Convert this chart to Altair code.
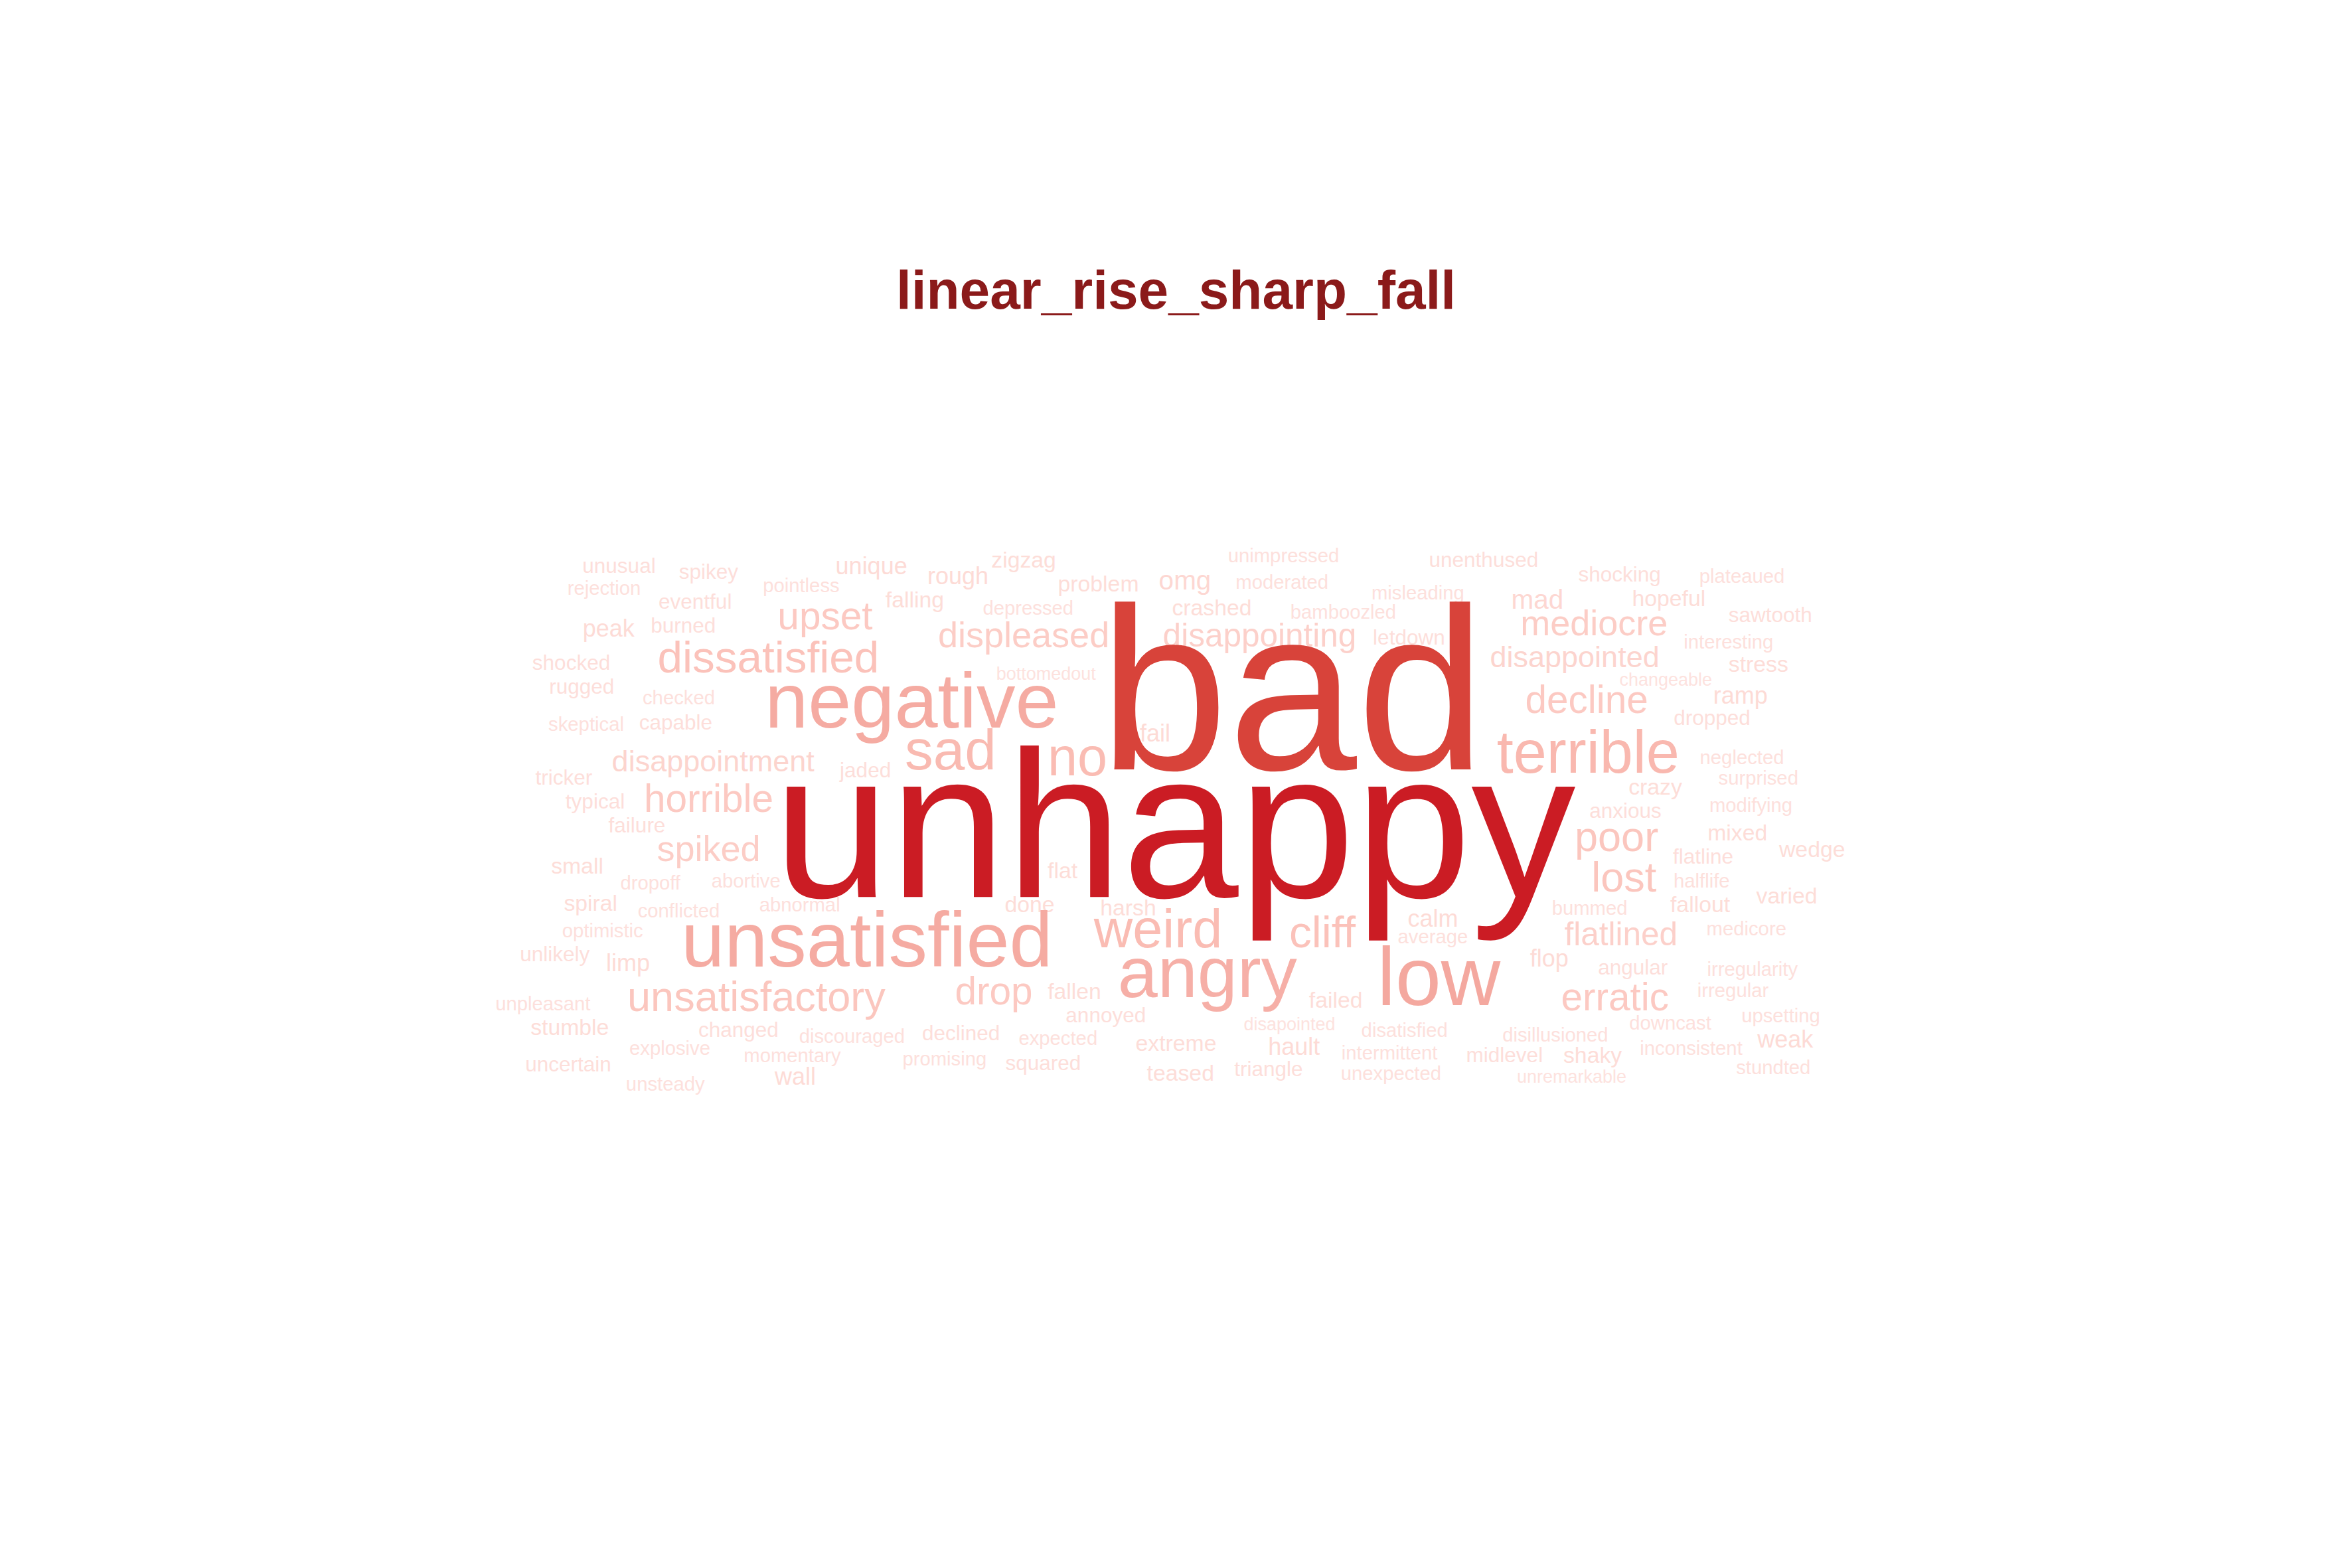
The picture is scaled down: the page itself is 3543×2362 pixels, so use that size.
import altair as alt
import pandas as pd

# word, x, y (in reference pixel space), weight (~font size)
words = ["unhappy", "bad", "negative", "unsatisfied", "low", "angry", "terrible", "sad", "no", "weird",
         "dissatisfied", "upset", "horrible", "spiked", "unsatisfactory", "drop", "cliff", "displeased",
         "disappointing", "disappointment", "mediocre", "disappointed", "decline", "poor", "lost",
         "flatlined", "erratic", "mad", "omg", "rough", "unique", "zigzag", "problem", "falling",
         "unimpressed", "moderated", "unenthused", "shocking", "plateaued", "hopeful", "sawtooth",
         "misleading", "crashed", "bamboozled", "depressed", "letdown", "interesting", "stress",
         "changeable", "ramp", "dropped", "bottomedout", "neglected", "surprised", "crazy", "modifying",
         "anxious", "mixed", "wedge", "flatline", "halflife", "fallout", "varied", "bummed", "medicore",
         "calm", "average", "flop", "angular", "irregularity", "irregular", "upsetting", "weak",
         "downcast", "inconsistent", "stundted", "disillusioned", "shaky", "midlevel", "unremarkable",
         "disatisfied", "intermittent", "unexpected", "hault", "failed", "disapointed", "triangle",
         "teased", "extreme", "fallen", "annoyed", "expected", "squared", "declined", "promising",
         "discouraged", "momentary", "wall", "changed", "explosive", "unsteady", "uncertain", "stumble",
         "unpleasant", "limp", "unlikely", "optimistic", "spiral", "conflicted", "abnormal", "done",
         "harsh", "flat", "dropoff", "abortive", "small", "failure", "typical", "tricker", "jaded",
         "fail", "skeptical", "capable", "rugged", "checked", "shocked", "peak", "burned", "rejection",
         "unusual", "eventful", "spikey", "pointless"]
xs = [783, 862, 607, 577, 960, 805, 1060, 633, 718, 772,
      511, 549, 471, 471, 503, 662, 882, 682,
      840, 474, 1064, 1051, 1059, 1079, 1084,
      1082, 1078, 1026, 790, 638, 580, 682, 732, 609,
      856, 855, 990, 1081, 1163, 1114, 1182,
      946, 808, 896, 685, 940, 1154, 1174,
      1112, 1162, 1143, 697, 1163, 1174, 1105, 1169,
      1085, 1160, 1210, 1137, 1136, 1135, 1193, 1061, 1166,
      956, 956, 1034, 1090, 1170, 1157, 1189, 1192,
      1115, 1129, 1184, 1038, 1063, 1004, 1049,
      937, 927, 928, 863, 891, 860, 846,
      787, 784, 716, 737, 705, 695, 640, 629,
      567, 527, 529, 491, 445, 442, 377, 378,
      360, 417, 368, 400, 392, 451, 532, 686,
      752, 708, 432, 496, 383, 423, 395, 374, 576,
      770, 389, 449, 386, 451, 379, 404, 454, 401,
      411, 462, 471, 533]
ys = [555, 465, 468, 628, 653, 650, 502, 500, 505, 620,
      438, 410, 532, 566, 665, 661, 622, 423,
      423, 507, 415, 437, 466, 558, 585,
      623, 665, 399, 386, 383, 376, 372, 388, 399,
      369, 387, 372, 382, 383, 398, 409,
      394, 404, 407, 404, 424, 427, 442,
      452, 463, 478, 448, 504, 518, 524, 536,
      540, 555, 566, 571, 587, 603, 597, 605, 619,
      612, 624, 639, 645, 646, 660, 677, 693,
      682, 699, 712, 690, 704, 704, 718,
      687, 702, 716, 698, 667, 683, 713,
      716, 696, 661, 677, 692, 709, 689, 706,
      691, 704, 718, 687, 699, 723, 710, 685,
      669, 642, 636, 620, 602, 607, 603, 603,
      605, 580, 588, 587, 577, 550, 534, 518, 513,
      488, 482, 481, 457, 464, 441, 418, 416, 391,
      376, 400, 380, 389]
weights = [140, 155, 52, 52, 55, 48, 40, 38, 36, 36,
           30, 26, 26, 24, 28, 26, 30, 24,
           22, 20, 24, 20, 26, 28, 28,
           22, 26, 18, 18, 16, 16, 15, 15, 15,
           13, 13, 14, 14, 13, 15, 14,
           13, 15, 13, 13, 14, 13, 15,
           12, 16, 14, 12, 13, 13, 15, 13,
           14, 15, 15, 14, 13, 15, 15, 13, 13,
           16, 13, 16, 14, 13, 13, 13, 16,
           13, 13, 13, 13, 15, 14, 12,
           13, 13, 13, 16, 15, 12, 14,
           15, 15, 15, 14, 13, 14, 14, 13,
           13, 13, 16, 14, 13, 13, 14, 15,
           13, 16, 14, 13, 15, 13, 13, 15,
           15, 15, 13, 13, 15, 14, 14, 14, 14,
           16, 13, 14, 14, 13, 14, 16, 14, 13,
           14, 14, 14, 13]
# colour strength: unhappy is the darkest, bad slightly lighter
shades = [150, 120] + weights[2:]

title_text = "linear_rise_sharp_fall"

df = pd.DataFrame({"word": words, "x": xs, "y": ys, "weight": weights, "shade": shades})
df["order"] = -df["weight"]
tdf = pd.DataFrame({"word": [title_text], "x": [784], "y": [192]})

W, H = 3527, 2346
xs_scale = alt.Scale(domain=[0, 1568])
ys_scale = alt.Scale(domain=[0, 1043], reverse=True)

cloud = alt.Chart(df).mark_text(
    font="Liberation Sans", align="center", baseline="middle"
).encode(
    x=alt.X("x:Q", scale=xs_scale, axis=None),
    y=alt.Y("y:Q", scale=ys_scale, axis=None),
    text="word:N",
    order=alt.Order("weight:Q", sort="ascending"),
    size=alt.Size("weight:Q", scale=alt.Scale(domain=[0, 100], range=[0, 225]), legend=None),
    color=alt.Color("shade:Q", legend=None,
                    scale=alt.Scale(domain=[12, 30, 60, 120, 150],
                                    range=["#fde2de", "#fbc2ba", "#f3a39a", "#d8433a", "#cb1c24"])),
)

title = alt.Chart(tdf).mark_text(
    font="Liberation Sans", fontWeight="bold", fontSize=82, color="#8b1a1a",
    align="center", baseline="middle"
).encode(
    x=alt.X("x:Q", scale=xs_scale, axis=None),
    y=alt.Y("y:Q", scale=ys_scale, axis=None),
    text="word:N",
)

chart = alt.layer(cloud, title).properties(
    width=W, height=H, padding=0, autosize=alt.AutoSizeParams(type="none"),
    background="white"
).configure_view(stroke=None)

chart.save("out.html", embed_options={"renderer": "svg", "actions": False})
